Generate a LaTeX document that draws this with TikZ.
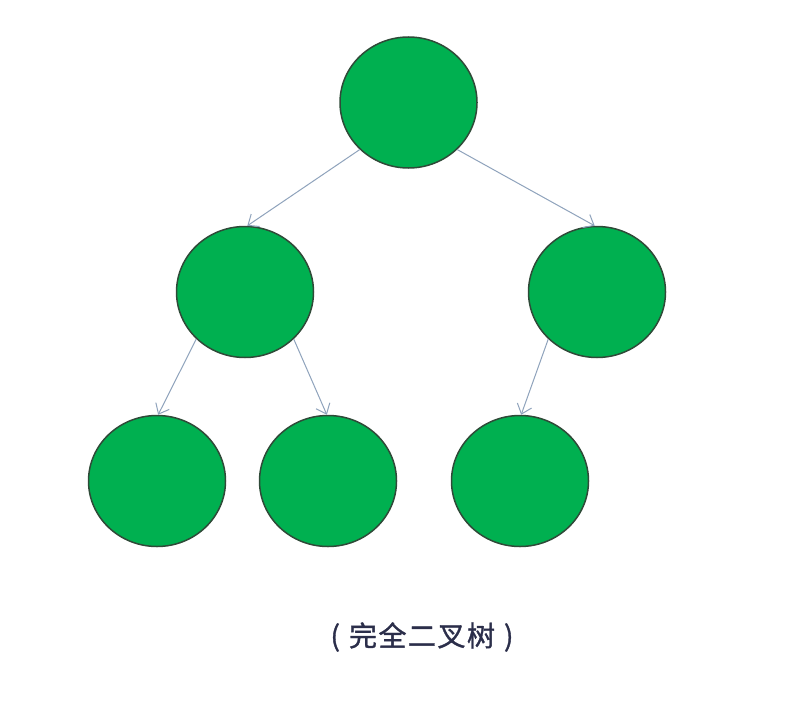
\documentclass[tikz,border=0pt]{standalone}
\usepackage{fontspec}
\newfontfamily\cjk[FakeBold=1.2]{Noto Sans CJK SC}
\usetikzlibrary{arrows.meta,shapes.geometric}
\definecolor{nodegreen}{HTML}{00B050}
\definecolor{nodeborder}{HTML}{2F4A38}
\definecolor{edgecol}{HTML}{8FA3BC}
\definecolor{txtcol}{HTML}{2B2E4A}
\begin{document}
\begin{tikzpicture}[x=1pt,y=-1pt,
  treenode/.style={ellipse,draw=nodeborder,fill=nodegreen,line width=1.5pt,minimum width=137pt,minimum height=131pt,inner sep=0pt},
  edge/.style={draw=edgecol,line width=1pt,-{Straight Barb[length=9pt,width=15pt,line width=1pt]}}]
\useasboundingbox (0,0) rectangle (786,706);
\fill[white] (0,0) rectangle (786,706);
\node[treenode] (r) at (408.5,102.5) {};
\node[treenode] (a) at (245,292) {};
\node[treenode] (b) at (597,292) {};
\node[treenode] (c) at (157,481) {};
\node[treenode] (d) at (328,481) {};
\node[treenode] (e) at (520,481) {};
\draw[edge] (r.224) -- (a.88);
\draw[edge] (r.316) -- (b.92);
\draw[edge] (a.224) -- (c.89);
\draw[edge] (a.316) -- (d.91);
\draw[edge] (b.224) -- (e.89);
\node[text=txtcol,font=\cjk\fontsize{28}{32}\selectfont] (t) at (422,637) {(\hspace{9pt}完\hspace{1.5pt}全\hspace{1.5pt}二\hspace{1.5pt}叉\hspace{1.5pt}树\hspace{9pt})};
\end{tikzpicture}
\end{document}
